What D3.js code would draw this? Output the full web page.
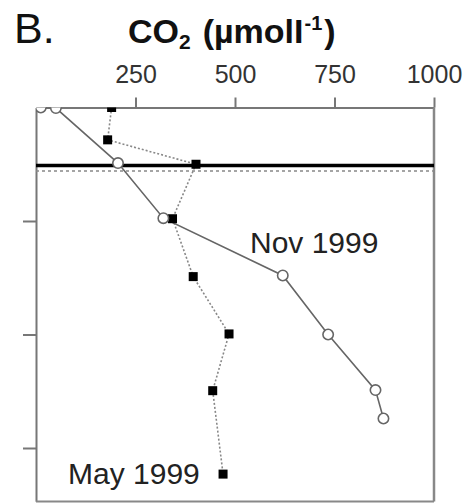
<!DOCTYPE html>
<html>
<head>
<meta charset="utf-8">
<script src="https://cdn.jsdelivr.net/npm/d3@7"></script>
<style>
  html, body { margin: 0; padding: 0; background: #fff; }
  svg { display: block; font-family: "Liberation Sans", Arial, sans-serif; }
</style>
</head>
<body>
<svg id="chart" width="465" height="504"></svg>
<script>
// CO2 concentration profiles (µmol/l) against depth
const novDepth = [0, 0.05, 4.9, 9.75, 14.8, 20.0, 24.9, 27.4];
const novCO2   = [12, 50, 206, 320, 620, 734, 853, 873];
const mayDepth = [0, 2.85, 5.0, 9.8, 14.9, 19.95, 24.95, 32.3];
const mayCO2   = [190, 180, 402, 343, 395, 485, 444, 470];

const xTicks = [250, 500, 750, 1000];
const yTicks = [10, 20, 30];
const refDepths = [5.1, 5.6];   // solid reference line, dotted reference line

const svg = d3.select("#chart");
const plotLeft = 36, plotRight = 434, plotTop = 107.5, plotBottom = 501.5;

const x = d3.scaleLinear().domain([0, 1000]).range([plotLeft, plotRight]);
const y = d3.scaleLinear().domain([0, 34.7]).range([plotTop, plotTop + 34.7 * 11.35]);

// panel letter and axis title
svg.append("text").attr("x", 14).attr("y", 43)
  .attr("font-size", 43).attr("fill", "#111").text("B.");

const title = svg.append("text").attr("x", 128).attr("y", 43)
  .attr("font-size", 34).attr("font-weight", "bold").attr("fill", "#111");
title.append("tspan").text("CO");
title.append("tspan").attr("font-size", 21).attr("dy", 6).text("2");
title.append("tspan").attr("dy", -6).attr("dx", 12).text("(µmolI");
title.append("tspan").attr("font-size", 20).attr("dy", -13).attr("dx", 1).text("-1");
title.append("tspan").attr("dy", 13).attr("dx", 2).text(")");

// axes
const gx = svg.append("g").attr("transform", `translate(0,${plotTop})`)
  .call(d3.axisTop(x).tickValues(xTicks).tickFormat(d3.format("d"))
    .tickSize(10).tickSizeOuter(0).tickPadding(15));
gx.selectAll("path, line").attr("stroke", "#777").attr("stroke-width", 2);
gx.selectAll("text").attr("font-size", 25).attr("fill", "#333")
  .attr("font-family", "Liberation Sans, Arial, sans-serif");

const gy = svg.append("g").attr("transform", `translate(${plotLeft},0)`)
  .call(d3.axisLeft(y).tickValues(yTicks).tickSize(13).tickSizeOuter(0).tickFormat(""));
gy.selectAll("path, line").attr("stroke", "#777").attr("stroke-width", 2);

// right and bottom frame
svg.append("line").attr("x1", plotRight).attr("x2", plotRight).attr("y1", plotTop).attr("y2", plotBottom)
  .attr("stroke", "#888").attr("stroke-width", 2.5);
svg.append("line").attr("x1", plotLeft).attr("x2", plotRight).attr("y1", plotBottom).attr("y2", plotBottom)
  .attr("stroke", "#888").attr("stroke-width", 2);

// reference depth lines
svg.append("line").attr("x1", plotLeft).attr("x2", plotRight)
  .attr("y1", y(refDepths[0])).attr("y2", y(refDepths[0]))
  .attr("stroke", "#000").attr("stroke-width", 3.5);
svg.append("line").attr("x1", plotLeft).attr("x2", plotRight)
  .attr("y1", y(refDepths[1])).attr("y2", y(refDepths[1]))
  .attr("stroke", "#888").attr("stroke-width", 1.6).attr("stroke-dasharray", "3,3");

// plot clip
svg.append("clipPath").attr("id", "plotClip").append("rect")
  .attr("x", plotLeft).attr("y", plotTop)
  .attr("width", plotRight - plotLeft).attr("height", plotBottom - plotTop);
const plot = svg.append("g").attr("clip-path", "url(#plotClip)");

const novPts = novCO2.map((v, i) => [v, novDepth[i]]);
const mayPts = mayCO2.map((v, i) => [v, mayDepth[i]]);
const line = d3.line().x(d => x(d[0])).y(d => y(d[1]));

plot.append("path").datum(mayPts).attr("d", line)
  .attr("fill", "none").attr("stroke", "#888").attr("stroke-width", 1.6)
  .attr("stroke-dasharray", "2,2");
plot.append("path").datum(novPts).attr("d", line)
  .attr("fill", "none").attr("stroke", "#666").attr("stroke-width", 1.6);

plot.selectAll("rect.may").data(mayPts).join("rect").attr("class", "may")
  .attr("x", d => x(d[0]) - 4.5).attr("y", d => y(d[1]) - 4.5)
  .attr("width", 9).attr("height", 9).attr("fill", "#000");

plot.selectAll("circle.nov").data(novPts).join("circle").attr("class", "nov")
  .attr("cx", d => x(d[0])).attr("cy", d => y(d[1])).attr("r", 5.2)
  .attr("fill", "#fff").attr("stroke", "#666").attr("stroke-width", 1.6);

// series labels
svg.append("text").attr("x", 250).attr("y", 253)
  .attr("font-size", 30).attr("fill", "#222").text("Nov 1999");
svg.append("text").attr("x", 68).attr("y", 484)
  .attr("font-size", 30).attr("fill", "#222").text("May 1999");
</script>
</body>
</html>
